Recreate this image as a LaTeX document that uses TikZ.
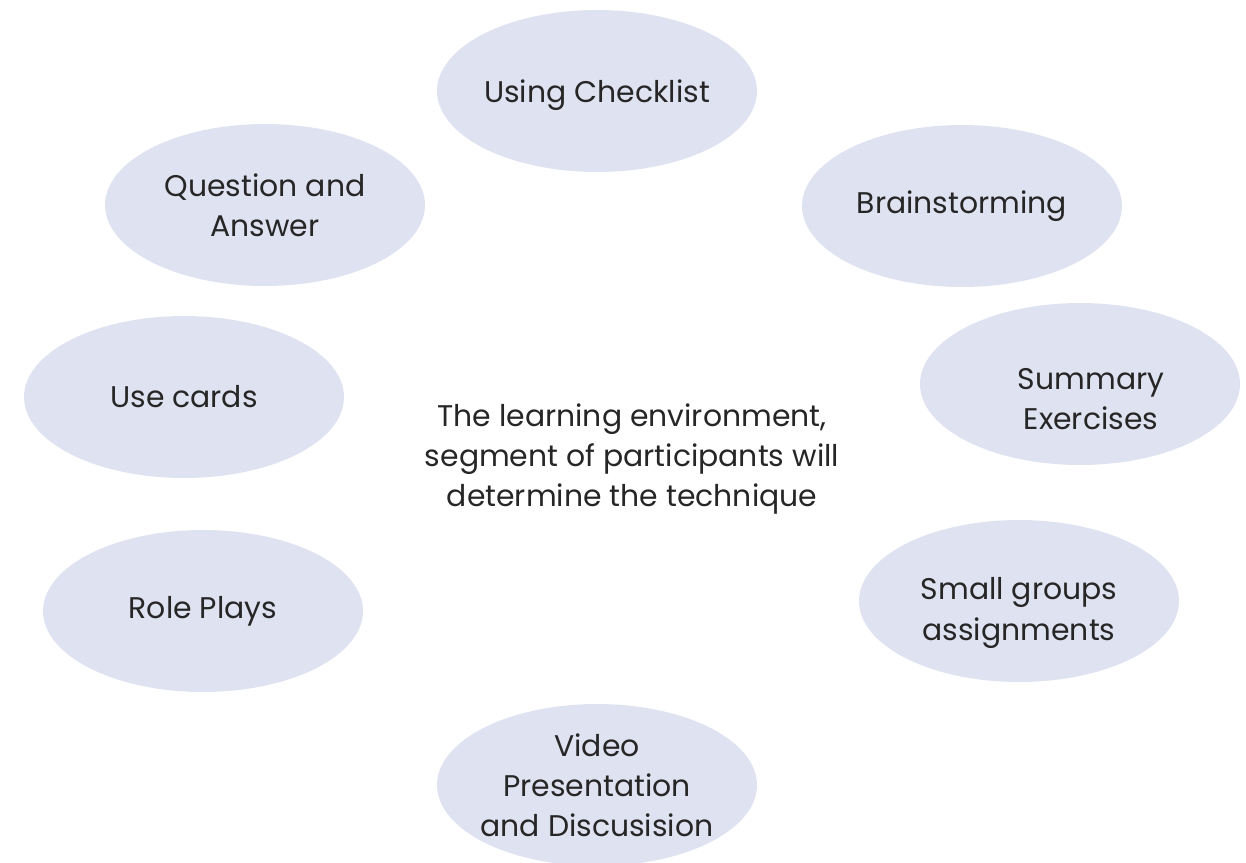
\documentclass[tikz,border=0pt]{standalone}
\usepackage{fontspec}
\setmainfont{Poppins}
\usetikzlibrary{shapes.geometric}

\definecolor{ovalfill}{HTML}{DFE3F1}
\definecolor{ovaltext}{HTML}{262626}

\begin{document}
\begin{tikzpicture}[
            x = 0.02cm, % one unit per pixel
            y = -0.02cm,
            font = \fontsize{17}{22.8}\selectfont, % text style
            text = ovaltext
        ]

        \tikzstyle{method}=[
            ellipse,
            fill = ovalfill,
            align = center,
            inner sep = 0pt,
            minimum width = 6.4cm,
            minimum height = 3.24cm
        ]
        \tikzstyle{methodtext}=[
            align = center,
            inner sep = 0pt
        ]

        \useasboundingbox (0,0) rectangle (1246,862);

        \node[align=center] (core) at (632,459) {The learning environment,\\segment of participants will\\determine the technique};

        \node[method, label={[methodtext, yshift=-0.08cm]center:Using Checklist}] (checklist) at (597,91) {};
        \node[method] (brain) at (962,206) {Brainstorming};
        \node[method, label={[methodtext, xshift=0.22cm, yshift=-0.3cm]center:{Summary\\Exercises}}] (summary) at (1080,384) {};
        \node[method, label={[methodtext, yshift=-0.24cm]center:{Small groups\\assignments}}] (groups) at (1019,601) {};
        \node[method, inner xsep = -0.15cm] (video) at (597,785) {Video\\Presentation\\and Discusision};
        \node[method] (role) at (203,611) {Role Plays};
        \node[method] (cards) at (184,397) {Use cards};
        \node[method] (qa) at (265,205) {Question and\\Answer};
    \end{tikzpicture}
\end{document}
